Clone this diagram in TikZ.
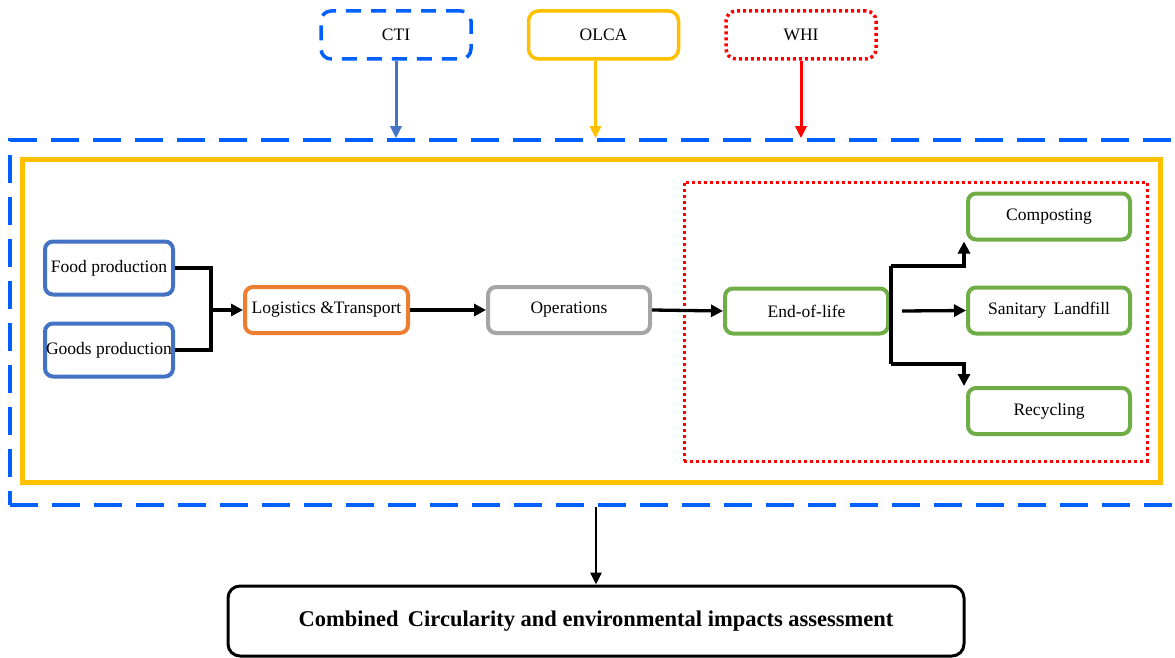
\documentclass[tikz,border=0pt]{standalone}
\usepackage{fontspec}
\setmainfont{Liberation Serif}
\usetikzlibrary{arrows.meta}
\definecolor{bblue}{RGB}{0,96,255}
\definecolor{sblue}{RGB}{68,114,196}
\definecolor{yel}{RGB}{255,192,0}
\definecolor{org}{RGB}{237,125,49}
\definecolor{gry}{RGB}{165,165,165}
\definecolor{grn}{RGB}{112,173,71}
\definecolor{rd}{RGB}{255,0,0}
\tikzset{
  box/.style={draw, rounded corners=8pt, line width=4pt, inner sep=0pt, minimum width=162pt, minimum height=46pt, font=\fontsize{17.5}{21}\selectfont, text=black},
  topbox/.style={draw, rounded corners=10pt, line width=3.5pt, inner sep=0pt, minimum width=150pt, minimum height=48pt, font=\fontsize{17.5}{21}\selectfont},
  conn/.style={draw=black, line width=3.3pt},
  arr/.style={conn, -{Triangle[length=12pt,width=12pt]}},
  toparr/.style={line width=3pt, -{Triangle[length=12pt,width=11pt]}}
}
\begin{document}
\begin{tikzpicture}[x=1pt,y=-1pt]
\useasboundingbox (0,0) rectangle (1175,658);
\fill[white] (0,0) rectangle (1175,658);

% frames
\node[draw=bblue, line width=3.5pt, dash pattern=on 28pt off 14pt, minimum width=1175pt, minimum height=365pt, inner sep=0pt] (outer) at (597.5,322.5) {};
\node[draw=yel, line width=5pt, minimum width=1138pt, minimum height=323pt, inner sep=0pt] (yframe) at (591.5,321) {};
\node[draw=rd, line width=3pt, dash pattern=on 3pt off 3pt, minimum width=463pt, minimum height=279pt, inner sep=0pt] (rframe) at (915.5,321.5) {};

% top boxes
\node[topbox, draw=bblue, dash pattern=on 15pt off 10pt] (cti) at (396,35) {CTI};
\node[topbox, draw=yel] (olca) at (603.5,35) {OLCA};
\node[topbox, draw=rd, dash pattern=on 3pt off 3pt] (whi) at (801,35) {WHI};

\draw[toparr, sblue] (cti.south) -- (cti.south |- outer.north);
\draw[toparr, yel] ([xshift=-8pt]olca.south) -- ([xshift=-8pt]olca.south |- outer.north);
\draw[toparr, rd] (whi.south) -- (whi.south |- outer.north);

% process boxes
\node[box, draw=sblue, minimum width=128pt, minimum height=53pt] (food) at (109,268) {Food production};
\node[box, draw=sblue, minimum width=128pt, minimum height=53pt] (goods) at (109,350) {Goods production};
\node[box, draw=org, minimum width=163pt] (log) at (326.5,310) {Logistics \&Transport};
\node[box, draw=gry] (ops) at (569,310) {Operations};
\node[box, draw=grn, minimum width=163pt, minimum height=45pt] (eol) at (806.5,311) {End-of-life};
\node[box, draw=grn] (comp) at (1049,216.5) {Composting};
\node[box, draw=grn] (san) at (1049,310.5) {Sanitary\, Landfill};
\node[box, draw=grn] (rec) at (1049,411) {Recycling};

% connectors
\draw[conn] (food.east) -- ++(36,0) |- (goods.east);
\coordinate (j1) at (209,310);
\draw[arr] (j1) -- (log.west);
\draw[arr] (log.east) -- (ops.west);
\draw[arr] (ops.east) -- (eol.west);
\coordinate (btop) at ([xshift=1pt,yshift=45pt]eol.east);
\coordinate (bbot) at ([xshift=1pt,yshift=-53pt]eol.east);
\draw[conn] (btop) -- (bbot);
\draw[arr] (btop) -| ([xshift=-2pt]comp.south west);
\draw[arr] (bbot) -| ([xshift=-2pt]rec.north west);
\draw[arr] ([xshift=12pt]eol.east) -- (san.west);

% bottom
\node[draw=black, line width=3pt, rounded corners=12pt, minimum width=736pt, minimum height=70pt, inner sep=0pt, font=\fontsize{22.5}{26}\selectfont\bfseries] (comb) at (596,621) {Combined\, Circularity and environmental impacts assessment};
\draw[line width=2.8pt, -{Triangle[length=12pt,width=11pt]}] (comb.north |- outer.south) -- (comb.north);
\end{tikzpicture}
\end{document}
